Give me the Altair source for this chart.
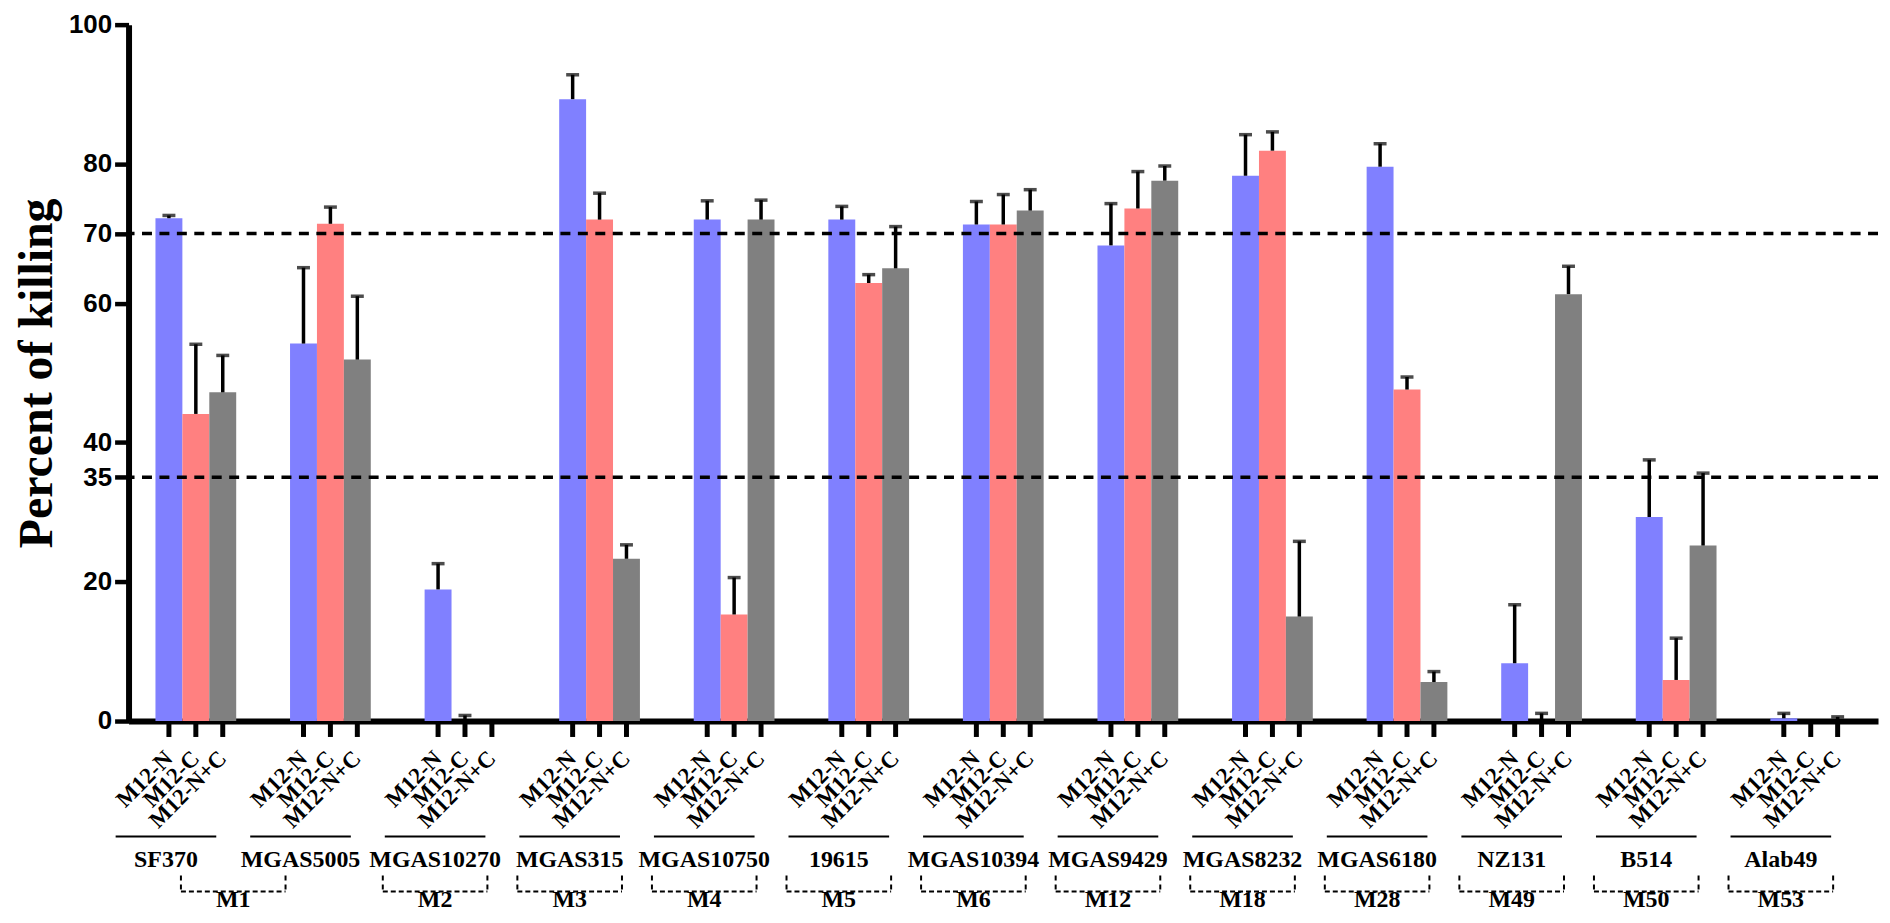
import altair as alt
import pandas as pd

strains = ["SF370", "MGAS5005", "MGAS10270", "MGAS315", "MGAS10750", "19615",
           "MGAS10394", "MGAS9429", "MGAS8232", "MGAS6180", "NZ131", "B514", "Alab49"]
series = ["M12-N", "M12-C", "M12-N+C"]
n_mean = [72.2, 54.2, 18.9, 89.3, 72.0, 72.0, 71.3, 68.3, 78.3, 79.6, 8.3, 29.3, 0.4]
c_mean = [44.1, 71.4, 0.0, 72.0, 15.3, 62.9, 71.3, 73.6, 81.9, 47.6, 0.0, 5.9, 0.0]
nc_mean = [47.2, 51.9, 0.0, 23.3, 72.0, 65.0, 73.3, 77.6, 15.0, 5.6, 61.3, 25.2, 0.0]
n_err = [0.4, 10.9, 3.7, 3.5, 2.7, 1.9, 3.3, 6.0, 5.9, 3.3, 8.4, 8.2, 0.7]
c_err = [10.0, 2.4, 0.8, 3.8, 5.3, 1.2, 4.3, 5.3, 2.7, 1.8, 1.1, 6.0, 0.0]
nc_err = [5.3, 9.1, 0.0, 2.0, 2.8, 6.0, 3.0, 2.1, 10.8, 1.5, 4.0, 10.4, 0.6]
m_types = ["M1", "M2", "M3", "M4", "M5", "M6", "M12", "M18", "M28", "M49", "M50", "M53"]
m_members = [["SF370", "MGAS5005"], ["MGAS10270"], ["MGAS315"], ["MGAS10750"], ["19615"],
             ["MGAS10394"], ["MGAS9429"], ["MGAS8232"], ["MGAS6180"], ["NZ131"], ["B514"], ["Alab49"]]
y_ticks = [0, 20, 35, 40, 60, 70, 80, 100]
thresholds = [70, 35]
colors = ["#8080FF", "#FF8080", "#808080"]

rows = []
for means, errs, s in [(n_mean, n_err, series[0]), (c_mean, c_err, series[1]), (nc_mean, nc_err, series[2])]:
    for st, m, e in zip(strains, means, errs):
        rows.append({"strain": st, "series": s, "mean": m, "err": e, "top": m + e})
df = pd.DataFrame(rows)
err_df = df[df["err"] > 0]
strain_df = pd.DataFrame({"strain": strains, "idx": list(range(len(strains)))})
m_df = pd.DataFrame({"m": m_types,
                     "mid": [sum(strains.index(s) for s in mem) / len(mem) for mem in m_members]})
thr_df = pd.DataFrame({"y": thresholds})

W, H = 1756, 699
SERIF = "Liberation Serif"
SANS = "Liberation Sans"

x_band = alt.X("strain:N", sort=strains,
               scale=alt.Scale(domain=strains, paddingInner=0.4, paddingOuter=0.2),
               axis=alt.Axis(labels=False, ticks=False, title=None, domainWidth=6,
                             domainColor="black", grid=False))
x_off = alt.XOffset("series:N", scale=alt.Scale(domain=series, paddingInner=0, paddingOuter=0))
y_scale = alt.Scale(domain=[0, 100], nice=False)

bars = alt.Chart(df).mark_bar().encode(
    x=x_band, xOffset=x_off,
    y=alt.Y("mean:Q", scale=y_scale,
            axis=alt.Axis(values=y_ticks, title="Percent of killing", titleFont=SERIF,
                          titleFontSize=48, titleFontWeight="bold", titleColor="black",
                          titleAngle=270, titleAlign="center", titleBaseline="alphabetic",
                          titleX=-77, titleY=H / 2,
                          labelFont=SANS, labelFontSize=26, labelFontWeight="bold",
                          labelColor="black", labelPadding=3,
                          tickSize=14, tickWidth=4.5, tickColor="black",
                          domainWidth=6, domainColor="black", grid=False)),
    color=alt.Color("series:N", scale=alt.Scale(domain=series, range=colors), legend=None),
)

err_line = alt.Chart(err_df).mark_rule(color="black", strokeWidth=3.5).encode(
    x=x_band, xOffset=x_off, y=alt.Y("mean:Q", scale=y_scale), y2="top:Q")
err_cap = alt.Chart(err_df).mark_tick(color="black", thickness=3.5, size=13).encode(
    x=x_band, xOffset=x_off, y=alt.Y("top:Q", scale=y_scale))

thr = alt.Chart(thr_df).mark_rule(color="black", strokeWidth=3.5, strokeDash=[10, 7.5]).encode(
    y=alt.Y("y:Q", scale=y_scale))

bar_ticks = alt.Chart(df).mark_rule(color="black", strokeWidth=5).encode(
    x=x_band, xOffset=x_off, y=alt.value(H), y2=alt.value(H + 16))
bar_labels = alt.Chart(df).mark_text(angle=315, align="right", baseline="middle", font=SERIF,
                                     fontSize=23, fontWeight="bold", color="black").encode(
    x=x_band, xOffset=x_off, y=alt.value(H + 34), text="series:N")

main = alt.layer(bars, err_line, err_cap, thr, bar_ticks, bar_labels)

xq = alt.Scale(domain=[-0.5, len(strains) - 0.5], nice=False, zero=False)
s_line = alt.Chart(strain_df).mark_rule(color="black", strokeWidth=2, xOffset=-80.5, x2Offset=20.5).encode(
    x=alt.X("idx:Q", scale=xq, axis=None), x2="idx:Q", y=alt.value(H + 116))
s_text = alt.Chart(strain_df).mark_text(font=SERIF, fontSize=24, fontWeight="bold", dx=-30,
                                        baseline="middle", color="black").encode(
    x=alt.X("idx:Q", scale=xq, axis=None), y=alt.value(H + 140), text="strain:N")
b_line = alt.Chart(m_df).mark_rule(color="black", strokeWidth=2, strokeDash=[5, 3],
                                   xOffset=-82.5, x2Offset=22.5).encode(
    x=alt.X("mid:Q", scale=xq, axis=None), x2="mid:Q", y=alt.value(H + 171))
b_left = alt.Chart(m_df).mark_rule(color="black", strokeWidth=2, strokeDash=[5, 4], xOffset=-82.5).encode(
    x=alt.X("mid:Q", scale=xq, axis=None), y=alt.value(H + 155), y2=alt.value(H + 171))
b_right = alt.Chart(m_df).mark_rule(color="black", strokeWidth=2, strokeDash=[5, 4], xOffset=22.5).encode(
    x=alt.X("mid:Q", scale=xq, axis=None), y=alt.value(H + 155), y2=alt.value(H + 171))
m_text = alt.Chart(m_df).mark_text(font=SERIF, fontSize=24, fontWeight="bold", dx=-30,
                                   baseline="alphabetic", color="black").encode(
    x=alt.X("mid:Q", scale=xq, axis=None), y=alt.value(H + 187), text="m:N")

annot = alt.layer(s_line, s_text, b_line, b_left, b_right, m_text)

chart = alt.layer(main, annot).resolve_scale(x="independent").properties(
    width=W, height=H,
    autosize=alt.AutoSizeParams(type="none"),
    padding={"left": 121, "top": 15, "right": 4, "bottom": 193},
).configure_view(stroke=None)

chart.save("out.html", embed_options={"renderer": "svg", "actions": False})
